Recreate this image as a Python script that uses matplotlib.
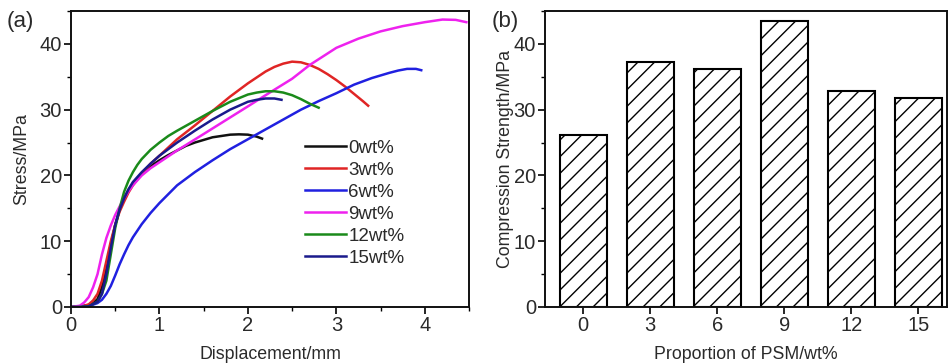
import matplotlib
matplotlib.use("Agg")
import matplotlib.pyplot as plt
import numpy as np
from matplotlib.ticker import MultipleLocator

plt.rcParams['font.family'] = ['Liberation Sans', 'DejaVu Sans']
plt.rcParams['hatch.linewidth'] = 1.0

# ---------- data: stress-displacement curves ----------
labels = ["0wt%", "3wt%", "6wt%", "9wt%", "12wt%", "15wt%"]
colors = ["#111111", "#e02525", "#2020e0", "#ee22ee", "#1a8a1a", "#1a1a8c"]

x_0 = [0, 0.1, 0.2, 0.25, 0.3, 0.35, 0.4, 0.45, 0.5, 0.55, 0.6, 0.65, 0.7, 0.75, 0.8, 0.9, 1.0, 1.1, 1.2, 1.3, 1.4, 1.5, 1.6, 1.7, 1.8, 1.9, 2.0, 2.1, 2.16]
y_0 = [0, 0.1, 0.3, 0.6, 1.2, 3.0, 6.0, 9.5, 12.5, 14.8, 16.5, 17.8, 18.8, 19.6, 20.3, 21.4, 22.3, 23.1, 23.8, 24.5, 25.0, 25.4, 25.8, 26.0, 26.2, 26.25, 26.2, 25.9, 25.6]

x_3 = [0, 0.1, 0.2, 0.25, 0.3, 0.35, 0.4, 0.45, 0.5, 0.55, 0.6, 0.65, 0.7, 0.8, 0.9, 1.0, 1.2, 1.4, 1.6, 1.8, 2.0, 2.2, 2.3, 2.4, 2.5, 2.6, 2.7, 2.8, 2.9, 3.0, 3.1, 3.2, 3.3, 3.36]
y_3 = [0, 0.0, 0.4, 1.0, 2.0, 4.0, 7.0, 10.0, 12.5, 14.5, 16.0, 17.4, 18.5, 20.3, 21.8, 23.0, 25.5, 27.6, 29.8, 32.0, 34.0, 35.8, 36.5, 37.0, 37.3, 37.2, 36.8, 36.2, 35.4, 34.5, 33.5, 32.4, 31.3, 30.6]

x_6 = [0, 0.1, 0.2, 0.3, 0.35, 0.4, 0.45, 0.5, 0.55, 0.6, 0.65, 0.7, 0.8, 0.9, 1.0, 1.2, 1.4, 1.6, 1.8, 2.0, 2.2, 2.4, 2.6, 2.8, 3.0, 3.2, 3.4, 3.6, 3.7, 3.8, 3.9, 3.96]
y_6 = [0, 0.0, 0.1, 0.6, 1.1, 2.0, 3.2, 4.8, 6.5, 8.0, 9.4, 10.6, 12.6, 14.3, 15.8, 18.5, 20.5, 22.3, 24.0, 25.5, 27.0, 28.5, 30.0, 31.3, 32.5, 33.8, 34.8, 35.6, 35.95, 36.2, 36.2, 36.0]

x_9 = [0, 0.1, 0.15, 0.2, 0.25, 0.3, 0.35, 0.4, 0.45, 0.5, 0.55, 0.6, 0.65, 0.7, 0.8, 0.9, 1.0, 1.2, 1.5, 2.0, 2.2, 2.5, 2.7, 3.0, 3.25, 3.5, 3.75, 4.0, 4.2, 4.35, 4.47]
y_9 = [0, 0.2, 0.7, 1.5, 3.0, 5.0, 8.0, 10.5, 12.4, 14.0, 15.3, 16.5, 17.6, 18.5, 20.0, 21.1, 22.0, 23.8, 26.3, 30.5, 32.2, 34.7, 36.8, 39.4, 40.8, 41.9, 42.7, 43.3, 43.7, 43.65, 43.3]

x_12 = [0, 0.1, 0.2, 0.3, 0.35, 0.4, 0.45, 0.5, 0.55, 0.6, 0.65, 0.7, 0.75, 0.8, 0.9, 1.0, 1.1, 1.2, 1.4, 1.6, 1.8, 2.0, 2.1, 2.2, 2.3, 2.4, 2.5, 2.6, 2.7, 2.8]
y_12 = [0, 0.0, 0.1, 0.8, 2.0, 4.0, 8.0, 12.0, 15.0, 17.5, 19.2, 20.5, 21.6, 22.5, 23.9, 25.0, 26.0, 26.8, 28.3, 29.8, 31.2, 32.3, 32.6, 32.8, 32.8, 32.6, 32.2, 31.6, 30.9, 30.3]

x_15 = [0, 0.1, 0.2, 0.3, 0.35, 0.4, 0.45, 0.5, 0.55, 0.6, 0.65, 0.7, 0.8, 0.9, 1.0, 1.2, 1.4, 1.6, 1.8, 2.0, 2.1, 2.2, 2.3, 2.38]
y_15 = [0, 0.0, 0.1, 0.8, 2.0, 5.0, 9.0, 12.5, 14.8, 16.5, 17.9, 19.0, 20.5, 21.8, 23.0, 25.0, 26.8, 28.5, 30.0, 31.2, 31.5, 31.7, 31.7, 31.5]

curves_x = [x_0, x_3, x_6, x_9, x_12, x_15]
curves_y = [y_0, y_3, y_6, y_9, y_12, y_15]

# ---------- data: compression strength bars ----------
categories = ["0", "3", "6", "9", "12", "15"]
strength = [26.2, 37.2, 36.2, 43.5, 32.8, 31.8]

W, H = 948, 363
fig = plt.figure(figsize=(W / 100, H / 100), dpi=100)

ax1 = fig.add_axes([71 / W, (H - 307) / H, (469 - 71) / W, (307 - 11) / H])
ax2 = fig.add_axes([545 / W, (H - 307) / H, (947 - 545) / W, (307 - 11) / H])

tc = "#2a2a2a"
fs = 12.8
tfs = 14.5

for xs, ys, c, lab in zip(curves_x, curves_y, colors, labels):
    ax1.plot(xs, ys, color=c, lw=1.8, label=lab, solid_joinstyle="round")

ax1.set_xlim(0, 4.5)
ax1.set_ylim(0, 45)
ax1.xaxis.set_major_locator(MultipleLocator(1))
ax1.xaxis.set_minor_locator(MultipleLocator(0.5))
ax1.yaxis.set_major_locator(MultipleLocator(10))
ax1.yaxis.set_minor_locator(MultipleLocator(5))
ax1.set_xlabel("Displacement/mm", fontsize=fs, color=tc, labelpad=8)
ax1.set_ylabel("Stress/MPa", fontsize=fs, color=tc, labelpad=7)
leg = ax1.legend(loc="upper left", bbox_to_anchor=(0.588, 0.565), frameon=False,
                 fontsize=13.5, handlelength=2.2, handletextpad=0.1,
                 labelspacing=0.26, borderpad=0.0, borderaxespad=0.0)
for t in leg.get_texts():
    t.set_color(tc)

x_pos = np.arange(len(categories))
ax2.bar(x_pos, strength, width=0.7, facecolor="white", edgecolor="black",
        linewidth=1.5, hatch="//")
ax2.set_xlim(-0.57, 5.43)
ax2.set_ylim(0, 45)
ax2.set_xticks(x_pos)
ax2.set_xticklabels(categories)
ax2.yaxis.set_major_locator(MultipleLocator(10))
ax2.yaxis.set_minor_locator(MultipleLocator(5))
ax2.set_xlabel("Proportion of PSM/wt%", fontsize=fs, color=tc, labelpad=8)
ax2.set_ylabel("Compression Strength/MPa", fontsize=fs, color=tc, labelpad=0)

for ax in (ax1, ax2):
    for s in ax.spines.values():
        s.set_linewidth(1.4)
        s.set_color("#111111")
    ax.tick_params(which="major", direction="out", length=5, width=1.2,
                   labelsize=tfs, labelcolor=tc, pad=1.5)
    ax.tick_params(which="minor", direction="out", length=3, width=1.0)
    ax.tick_params(top=False, right=False, which="both")

fig.text(7 / W, 1 - 22 / H, "(a)", fontsize=16, color=tc, va="center", ha="left")
fig.text(492 / W, 1 - 22 / H, "(b)", fontsize=16, color=tc, va="center", ha="left")

fig.savefig("out.png", dpi=100)
